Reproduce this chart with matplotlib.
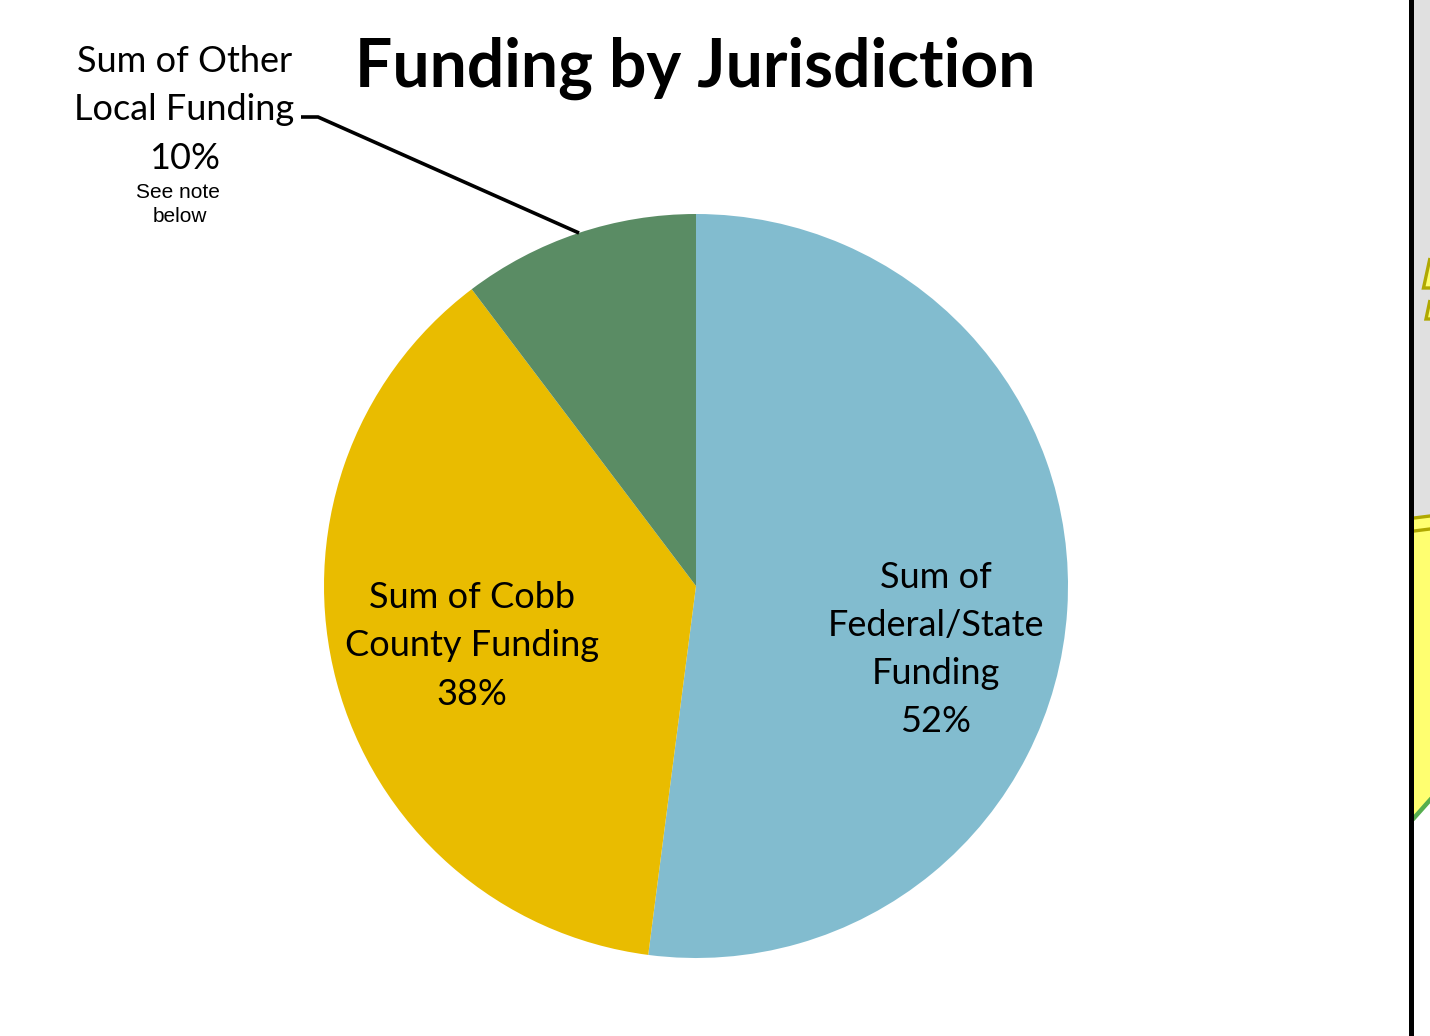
import matplotlib
matplotlib.use("Agg")
import matplotlib.pyplot as plt
from matplotlib.patches import Polygon, Rectangle

title = "Funding by Jurisdiction"
values = [52.05, 37.65, 10.3]
colors = ["#82BCCF", "#E9BC00", "#5A8C64"]
labels = ["Sum of\nFederal/State\nFunding\n52%", "Sum of Cobb\nCounty Funding\n38%", "Sum of Other\nLocal Funding\n10%"]
note = ["See note", "below"]

W, H = 1430, 1036
fig = plt.figure(figsize=(W / 100, H / 100), dpi=100, facecolor="white")
ax = fig.add_axes([0, 0, 1, 1])
ax.set_xlim(0, W)
ax.set_ylim(0, H)
ax.axis("off")
Y = lambda p: H - p

ax.pie(values, colors=colors, startangle=90, counterclock=False,
       center=(696, Y(586)), radius=372, frame=True)
ax.set_xlim(0, W)
ax.set_ylim(0, H)
ax.axis("off")

font = "Lato"
ls = 1.565
ax.text(695, Y(68), title, family=font, weight="bold", fontsize=47.5, ha="center", va="center", color="black")
ax.text(936, Y(649.5), labels[0], family=font, fontsize=26, ha="center", va="center", linespacing=ls, color="black")
ax.text(472, Y(646), labels[1], family=font, fontsize=26, ha="center", va="center", linespacing=ls, color="black")
ax.text(184.5, Y(110), labels[2], family=font, fontsize=26, ha="center", va="center", linespacing=ls, color="black")
ax.text(177.5, Y(193), note[0], family="Liberation Sans", fontsize=15, ha="center", va="center", color="black")
ax.text(180, Y(217), note[1], family="Liberation Sans", fontsize=15, ha="center", va="center", color="black")

ax.plot([301, 318, 579], [Y(117), Y(117), Y(233)], color="black", lw=2.6, solid_capstyle="butt", solid_joinstyle="miter")

# Edge of the neighbouring map panel
ax.add_patch(Rectangle((1414, Y(1036)), 16, 1036, fc="white", ec="none", zorder=3))
ax.add_patch(Rectangle((1414, Y(518)), 16, 518, fc="#E0E0E0", ec="none", zorder=3))
ax.add_patch(Polygon([(1414, Y(518)), (1430, Y(516)), (1430, Y(800)), (1414, Y(818))], fc="#FFFF70", ec="none", zorder=4))
ax.add_patch(Polygon([(1430, Y(258)), (1423.5, Y(288)), (1430, Y(288))], fc="#FFFF70", ec="#B0A800", lw=2.4, zorder=4, closed=False))
ax.add_patch(Polygon([(1430, Y(300)), (1426, Y(319)), (1430, Y(319))], fc="#FFFF70", ec="#B0A800", lw=2.4, zorder=4, closed=False))
ax.plot([1414, 1430], [Y(518), Y(516)], color="#B0A800", lw=2.4, zorder=5)
ax.plot([1414, 1430], [Y(531), Y(529)], color="#B0A800", lw=2.4, zorder=5)
ax.plot([1414, 1430], [Y(818), Y(800)], color="#56AE4E", lw=3.2, zorder=5)
ax.add_patch(Rectangle((1408.5, 0), 5.8, H, fc="black", ec="none", zorder=6))

fig.savefig("out.png", dpi=100, facecolor="white")
